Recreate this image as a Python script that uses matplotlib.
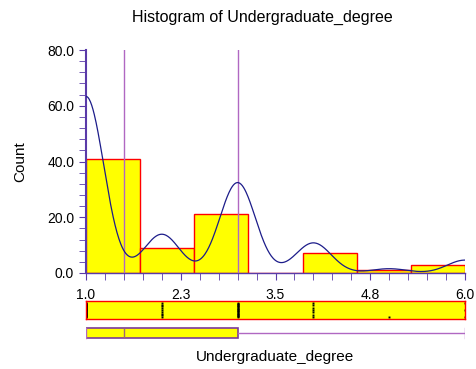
import numpy as np
import matplotlib
matplotlib.use("Agg")
import matplotlib.pyplot as plt
from matplotlib.ticker import MultipleLocator, FixedLocator

plt.rcParams['font.family'] = ['Liberation Sans', 'DejaVu Sans']

# distinct values of Undergraduate_degree and how often each occurs
values = [1.0, 2.0, 3.0, 4.0, 5.0, 6.0]
counts = [41, 9, 21, 7, 1, 3]
n_bins = 7
x_ticks = [1.0, 2.25, 3.5, 4.75, 6.0]
tick_labels = ["1.0", "2.3", "3.5", "4.8", "6.0"]
median_q = [1.5, 3.0]  # median, upper quartile
bandwidth = 0.235
curve_scale = 0.91

data = np.repeat(values, counts)
q1, med, q3 = 1.0, median_q[0], median_q[1]

W, H = 476, 369
fig = plt.figure(figsize=(W / 100, H / 100), dpi=100)

def box(l, t, r, b):
    return [l / W, 1 - b / H, (r - l) / W, (b - t) / H]

AX_COL = "#5a3aa8"
LINE_COL = "#b068c2"

# --- histogram ---
ax = fig.add_axes(box(86, 50, 465, 273))
edges = np.linspace(1.0, 6.0, n_bins + 1)
ax.hist(data, bins=edges, color="#ffff00", edgecolor="#ff0000", linewidth=1.0, zorder=2)

# smooth density curve, scaled to counts
xs = np.linspace(1.0, 6.0, 600)
dens = np.zeros_like(xs)
for v, c in zip(values, counts):
    dens += c * np.exp(-0.5 * ((xs - v) / bandwidth) ** 2) / (np.sqrt(2 * np.pi) * bandwidth)
ax.plot(xs, dens * curve_scale, color="#1c1c8a", linewidth=0.9, zorder=4)

for q in median_q:
    ax.axvline(q, color=LINE_COL, linewidth=1.0, zorder=3)

ax.set_xlim(1.0, 6.0)
ax.set_ylim(0, 80)
ax.xaxis.set_major_locator(FixedLocator(x_ticks))
ax.set_xticklabels(tick_labels)
ax.xaxis.set_minor_locator(MultipleLocator(0.25))
ax.yaxis.set_major_locator(MultipleLocator(20))
ax.yaxis.set_minor_locator(MultipleLocator(4))
ax.yaxis.set_major_formatter(matplotlib.ticker.FormatStrFormatter("%.1f"))
for s in ["top", "right"]:
    ax.spines[s].set_visible(False)
ax.spines["left"].set_color(AX_COL)
ax.spines["left"].set_linewidth(1.5)
ax.spines["bottom"].set_color(AX_COL)
ax.spines["bottom"].set_linewidth(1.0)
ax.tick_params(which="both", direction="out", color=AX_COL, labelsize=10)
ax.tick_params(which="major", length=5)
ax.tick_params(which="minor", length=5)
ax.tick_params(axis="x", pad=6)
ax.set_ylabel("Count", fontsize=11, labelpad=14)

# --- dot strip ---
ax2 = fig.add_axes(box(86, 301, 465, 319))
ax2.set_xlim(1.0, 6.0)
ax2.set_ylim(0, 1)
ax2.set_facecolor("#ffff00")
for v, c in zip(values, counts):
    ys = np.linspace(0.1, 0.9, c) if c > 1 else [0.1]
    ax2.plot([v] * c, ys, linestyle="none", marker="s", markersize=1.4,
             color="black", markeredgewidth=0)
for s in ax2.spines.values():
    s.set_color("#ff0000")
    s.set_linewidth(1.0)
ax2.set_xticks([])
ax2.set_yticks([])

# --- box plot ---
ax3 = fig.add_axes(box(86, 325, 465, 341))
ax3.axis("off")
ax3.bxp([{"med": med, "q1": q1, "q3": q3, "whislo": data.min(), "whishi": data.max(),
          "fliers": []}],
        vert=False, positions=[0.5], widths=[0.62], patch_artist=True, showcaps=True,
        boxprops=dict(facecolor="#ffff00", edgecolor="#7a3a9a", linewidth=1.2),
        medianprops=dict(color="#a06a70", linewidth=1.0),
        whiskerprops=dict(color=LINE_COL, linewidth=1.0),
        capprops=dict(color=LINE_COL, linewidth=1.0), capwidths=[0.6])
ax3.set_xlim(1.0, 6.0)
ax3.set_ylim(0, 1)

fig.text(262 / W, 1 - 17 / H, "Histogram of Undergraduate_degree", fontsize=11.5,
         ha="center", va="center")
fig.text(275 / W, 1 - 357 / H, "Undergraduate_degree", fontsize=11,
         ha="center", va="center")

fig.savefig("out.png", dpi=100)
